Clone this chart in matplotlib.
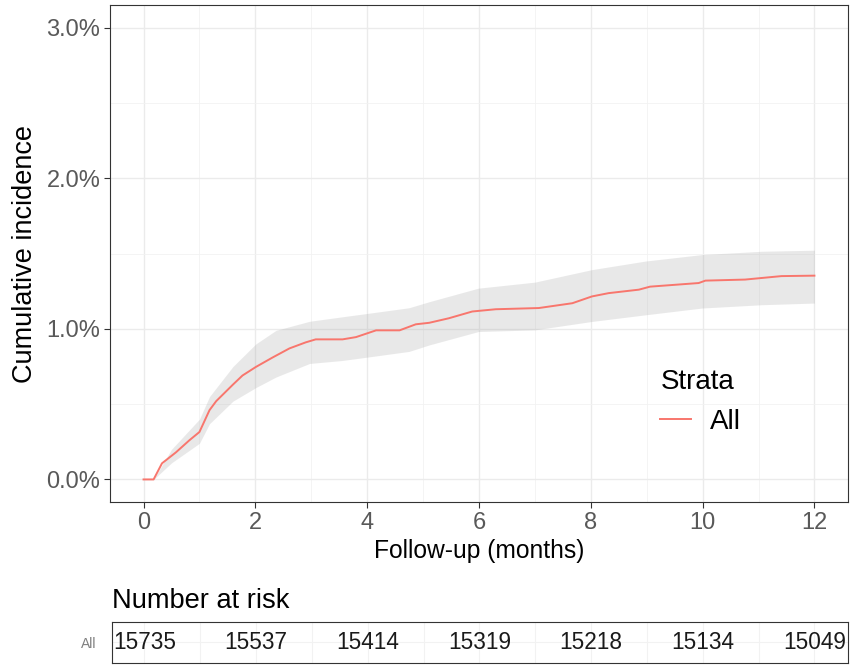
import matplotlib
matplotlib.use("Agg")
import matplotlib.pyplot as plt
import numpy as np
from matplotlib.ticker import FuncFormatter, MultipleLocator

plt.rcParams['font.family'] = ['Liberation Sans', 'DejaVu Sans']

# cumulative incidence curve (months, %)
t = [0.0, 0.18, 0.33, 0.58, 0.82, 1.0, 1.18, 1.3, 1.6, 1.77, 2.01, 2.31, 2.61,
     2.9, 3.08, 3.56, 3.8, 4.16, 4.58, 4.87, 5.11, 5.46, 5.88, 6.3, 7.07, 7.67,
     8.02, 8.32, 8.86, 9.06, 9.93, 10.05, 10.76, 11.41, 12.0]
ci = [0.0, 0.0, 0.107, 0.18, 0.26, 0.315, 0.46, 0.52, 0.63, 0.69, 0.747, 0.81,
      0.87, 0.91, 0.93, 0.93, 0.945, 0.99, 0.99, 1.03, 1.04, 1.07, 1.115, 1.13,
      1.138, 1.17, 1.215, 1.237, 1.26, 1.28, 1.304, 1.32, 1.327, 1.35, 1.353]

# confidence band
t_band = [0.0, 0.18, 0.5, 1.0, 1.18, 1.6, 2.01, 2.37, 2.97, 3.56, 4.16, 4.75,
          5.11, 5.99, 7.0, 8.02, 8.98, 9.99, 11.06, 12.0]
upper = [0.0, 0.0, 0.2, 0.4, 0.55, 0.75, 0.9, 0.99, 1.05, 1.08, 1.11, 1.14,
         1.18, 1.27, 1.31, 1.393, 1.45, 1.493, 1.515, 1.522]
lower = [0.0, 0.0, 0.11, 0.24, 0.37, 0.52, 0.61, 0.68, 0.77, 0.79, 0.82, 0.85,
         0.893, 0.982, 0.993, 1.049, 1.093, 1.138, 1.16, 1.171]

risk_times = [0, 2, 4, 6, 8, 10, 12]
n_risk = [15735, 15537, 15414, 15319, 15218, 15134, 15049]

red = '#F8766D'
grid_c = '#EBEBEB'
txt_c = '#595959'

fig = plt.figure(figsize=(8.5, 6.66), dpi=100)
ax = fig.add_axes([0.1294, 0.2462, 0.8682, 0.7463])

ax.fill_between(t_band, lower, upper, color='#A6A6A6', alpha=0.25, lw=0)
ax.plot(t, ci, color=red, lw=1.4, label='All')

ax.set_xlim(-0.6, 12.6)
ax.set_ylim(-0.15, 3.15)
ax.xaxis.set_major_locator(MultipleLocator(2))
ax.xaxis.set_minor_locator(MultipleLocator(1))
ax.yaxis.set_major_locator(MultipleLocator(1))
ax.yaxis.set_minor_locator(MultipleLocator(0.5))
ax.yaxis.set_major_formatter(FuncFormatter(lambda v, p: f'{v:.1f}%'))
ax.grid(which='major', color=grid_c, lw=1.0)
ax.grid(which='minor', color='#F2F2F2', lw=0.6)
ax.set_axisbelow(True)
for s in ax.spines.values():
    s.set_color('#333333')
    s.set_linewidth(0.8)
ax.tick_params(which='major', length=4, width=0.8, color='#333333',
               labelsize=17, labelcolor=txt_c, pad=3)
ax.tick_params(which='minor', length=0)
ax.set_xlabel('Follow-up (months)', fontsize=17.7, labelpad=4)
ax.set_ylabel('Cumulative incidence', fontsize=19.5, labelpad=6)

leg = ax.legend(title='Strata', loc='upper left', bbox_to_anchor=(0.712, 0.318),
                frameon=False, fontsize=20, title_fontsize=20,
                handlelength=1.1, handletextpad=0.7)
leg._legend_box.align = 'left'

# number at risk table
ax2 = fig.add_axes([0.1318, 0.0045, 0.8658, 0.0616])
ax2.set_xlim(-0.58, 12.6)
ax2.set_ylim(0, 1)
for x in np.arange(0, 13, 1):
    ax2.axvline(x, color='#F2F2F2', lw=0.8, zorder=0)
ax2.axhline(0.5, color='#F2F2F2', lw=0.8, zorder=0)
for x, n in zip(risk_times, n_risk):
    ax2.text(x, 0.5, str(n), ha='center', va='center', fontsize=16.3,
             color='#1A1A1A')
ax2.set_xticks([])
ax2.set_yticks([0.5])
ax2.set_yticklabels(['All'])
ax2.tick_params(axis='y', length=0, labelsize=10, labelcolor='#808080', pad=11)
for s in ax2.spines.values():
    s.set_color('#333333')
    s.set_linewidth(0.8)
fig.text(0.1318, 0.0976, 'Number at risk', fontsize=19.6, va='center',
         ha='left')

fig.savefig('out.png', dpi=100)
